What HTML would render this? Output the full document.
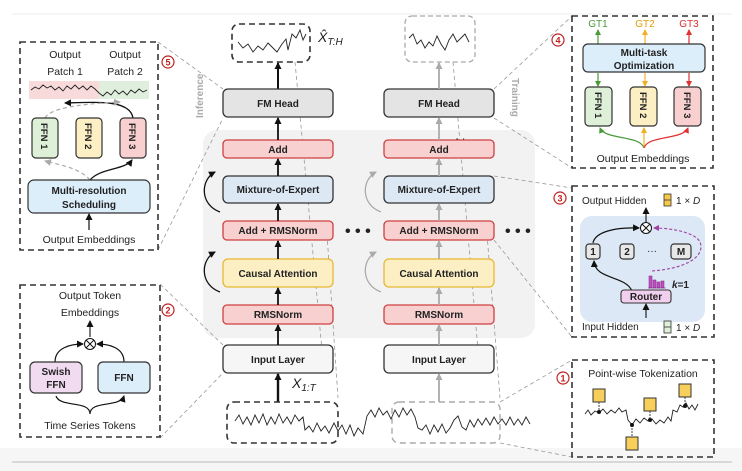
<!DOCTYPE html>
<html><head><meta charset="utf-8"><style>
html,body{margin:0;padding:0;background:#fff}
svg{display:block}
text{font-family:"Liberation Sans",sans-serif}
.b{font-weight:bold;font-size:10px;text-anchor:middle;fill:#222}
.t{font-size:10.5px;fill:#222;text-anchor:middle}
.dash{fill:none;stroke:#333;stroke-width:1.6;stroke-dasharray:6,4}
.gl{stroke:#999;stroke-width:0.8;stroke-dasharray:4,3;fill:none}
.ser{fill:none;stroke:#222;stroke-width:0.9}
</style></head><body>
<svg width="742" height="471" viewBox="0 0 742 471" xmlns="http://www.w3.org/2000/svg">
<defs>
<marker id="ak" markerUnits="userSpaceOnUse" markerWidth="7" markerHeight="7" refX="6" refY="3.5" orient="auto"><path d="M0,0 L7,3.5 L0,7z" fill="#111"/></marker>
<marker id="ag" markerUnits="userSpaceOnUse" markerWidth="7" markerHeight="7" refX="6" refY="3.5" orient="auto"><path d="M0,0 L7,3.5 L0,7z" fill="#aaa"/></marker>
<marker id="agr" markerUnits="userSpaceOnUse" markerWidth="6" markerHeight="6" refX="5" refY="3" orient="auto"><path d="M0,0 L6,3 L0,6z" fill="#4a9a3a"/></marker>
<marker id="ao" markerUnits="userSpaceOnUse" markerWidth="6" markerHeight="6" refX="5" refY="3" orient="auto"><path d="M0,0 L6,3 L0,6z" fill="#f0b020"/></marker>
<marker id="ar" markerUnits="userSpaceOnUse" markerWidth="6" markerHeight="6" refX="5" refY="3" orient="auto"><path d="M0,0 L6,3 L0,6z" fill="#e03030"/></marker>
<marker id="ap" markerUnits="userSpaceOnUse" markerWidth="6" markerHeight="6" refX="5" refY="3" orient="auto"><path d="M0,0 L6,3 L0,6z" fill="#a040a0"/></marker>
</defs>
<line x1="12" y1="14" x2="732" y2="14" stroke="#eee"/>
<rect x="0" y="448" width="742" height="23" fill="#f6f6f6"/>
<line x1="12" y1="462" x2="732" y2="462" stroke="#bbb"/>

<rect x="203" y="130" width="332" height="208" rx="14" fill="#f2f2f2"/>

<path class="gl" d="M158 42 L223 89 M158 250 L223 118"/>
<path class="gl" d="M494 89 L572 16 M494 118 L572 168"/>
<path class="gl" d="M494 176 L572 188 M494 240 L572 337"/>
<path class="gl" d="M160 284 L223 345 M160 438 L223 373"/>
<path class="gl" d="M500 402 L572 360 M500 443 L572 457"/>
<path class="gl" d="M295 62 L322 350 M327 234 L338 398"/>
<path class="gl" d="M453 62 L478 350 M487 234 L500 398"/>

<rect x="232" y="24" width="78" height="38" rx="7" class="dash"/>
<polyline class="ser" points="238,42 243,48 248,44 253,52 258,46 263,50 268,43 273,48 277,52 282,44 286,39 288,50 292,34 296,38 300,30 303,40 306,34"/>
<text x="318" y="42" font-family="Liberation Serif" font-style="italic" font-size="14" fill="#222">X̂<tspan font-size="10" dy="3">T:H</tspan></text>
<line x1="278" y1="89" x2="278" y2="63" stroke="#111" stroke-width="2" marker-end="url(#ak)"/>
<g stroke-width="1.3">
<rect x="223" y="89" width="110" height="28" rx="5" fill="#e4e4e4" stroke="#333"/>
<rect x="223" y="140" width="110" height="18" rx="4" fill="#f8d0d0" stroke="#d04040"/>
<rect x="223" y="176" width="110" height="27" rx="5" fill="#dde8f5" stroke="#333"/>
<rect x="223" y="221" width="110" height="19" rx="4" fill="#f8d0d0" stroke="#d04040"/>
<rect x="223" y="259" width="110" height="28" rx="5" fill="#fcefc4" stroke="#e8b830"/>
<rect x="223" y="305" width="110" height="19" rx="4" fill="#f8d0d0" stroke="#d04040"/>
<rect x="223" y="345" width="110" height="28" rx="5" fill="#f6f6f6" stroke="#333"/>
</g>
<text class="b" x="278" y="107">FM Head</text>
<text class="b" x="278" y="153">Add</text>
<text class="b" x="278" y="193">Mixture-of-Expert</text>
<text class="b" x="278" y="234">Add + RMSNorm</text>
<text class="b" x="278" y="277">Causal Attention</text>
<text class="b" x="278" y="318">RMSNorm</text>
<text class="b" x="278" y="363">Input Layer</text>
<g stroke="#111" stroke-width="1.8" marker-end="url(#ak)">
<line x1="278" y1="140" x2="278" y2="118"/><line x1="278" y1="176" x2="278" y2="159"/>
<line x1="278" y1="221" x2="278" y2="204"/><line x1="278" y1="259" x2="278" y2="241"/>
<line x1="278" y1="305" x2="278" y2="288"/><line x1="278" y1="345" x2="278" y2="325"/>
<line x1="278" y1="402" x2="278" y2="374" stroke-width="2.4"/>
</g>
<path d="M220 212 C200 205 200 180 215 172" fill="none" stroke="#111" stroke-width="1.3" marker-end="url(#ak)"/>
<path d="M220 292 C200 285 200 260 215 252" fill="none" stroke="#111" stroke-width="1.3" marker-end="url(#ak)"/>
<text x="292" y="388" font-family="Liberation Serif" font-style="italic" font-size="14" fill="#222">X<tspan font-size="10" dy="3">1:T</tspan></text>
<text x="345" y="236" font-size="16" font-weight="bold" fill="#222">• • •</text>
<text x="505" y="236" font-size="16" font-weight="bold" fill="#222">• • •</text>
<text x="442" y="148" font-family="Liberation Serif" font-size="14" fill="#222">× <tspan font-style="italic">N</tspan></text>
<text transform="translate(203,118) rotate(-90)" font-size="10" font-weight="bold" fill="#aaa">Inference</text>
<text transform="translate(512,78) rotate(90)" font-size="10" font-weight="bold" fill="#aaa">Training</text>

<rect x="405" y="16" width="70" height="46" rx="7" fill="none" stroke="#aaa" stroke-width="1.3" stroke-dasharray="5,3"/>
<polyline class="ser" points="409,38 413,34 417,44 421,40 425,48 429,42 433,46 437,36 441,44 445,50 449,40 453,34 457,42 461,38 465,34 469,42"/>
<g stroke-width="1.3">
<rect x="384" y="89" width="110" height="28" rx="5" fill="#e4e4e4" stroke="#333"/>
<rect x="384" y="140" width="110" height="18" rx="4" fill="#f8d0d0" stroke="#d04040"/>
<rect x="384" y="176" width="110" height="27" rx="5" fill="#dde8f5" stroke="#333"/>
<rect x="384" y="221" width="110" height="19" rx="4" fill="#f8d0d0" stroke="#d04040"/>
<rect x="384" y="259" width="110" height="28" rx="5" fill="#fcefc4" stroke="#e8b830"/>
<rect x="384" y="305" width="110" height="19" rx="4" fill="#f8d0d0" stroke="#d04040"/>
<rect x="384" y="345" width="110" height="28" rx="5" fill="#f6f6f6" stroke="#333"/>
</g>
<text class="b" x="439" y="107">FM Head</text>
<text class="b" x="439" y="153">Add</text>
<text class="b" x="439" y="193">Mixture-of-Expert</text>
<text class="b" x="439" y="234">Add + RMSNorm</text>
<text class="b" x="439" y="277">Causal Attention</text>
<text class="b" x="439" y="318">RMSNorm</text>
<text class="b" x="439" y="363">Input Layer</text>
<g stroke="#aaa" stroke-width="1.8" marker-end="url(#ag)">
<line x1="439" y1="89" x2="439" y2="63"/>
<line x1="439" y1="140" x2="439" y2="118"/><line x1="439" y1="176" x2="439" y2="159"/>
<line x1="439" y1="221" x2="439" y2="204"/><line x1="439" y1="259" x2="439" y2="241"/>
<line x1="439" y1="305" x2="439" y2="288"/><line x1="439" y1="345" x2="439" y2="325"/>
<line x1="439" y1="402" x2="439" y2="374"/>
</g>
<path d="M381 212 C361 205 361 180 376 172" fill="none" stroke="#aaa" stroke-width="1.3" marker-end="url(#ag)"/>
<path d="M381 292 C361 285 361 260 376 252" fill="none" stroke="#aaa" stroke-width="1.3" marker-end="url(#ag)"/>

<rect x="227" y="402" width="111" height="41" rx="7" class="dash"/>
<rect x="392" y="402" width="108" height="41" rx="7" fill="none" stroke="#aaa" stroke-width="1.4" stroke-dasharray="6,4"/>
<polyline class="ser" points="235,421 239,415 243,424 247,417 251,425 255,415 259,423 263,414 267,425 271,417 275,424 279,414 283,423 287,417 291,424 295,415 299,421 303,417 305,430 309,426 313,432 317,423 321,431 325,426 329,433 334,423 338,431 342,425 346,434 350,425 354,436 358,428 363,434 367,416 371,410 375,417 379,408 383,415 387,411 391,419 395,410 399,417 403,408 407,415 411,409 415,417 418,428 422,430 426,425 430,434 434,425 438,432 442,424 446,433 450,428 454,420 458,416 462,427 466,430 470,420 474,427 478,419 482,425 486,418 490,425 494,417 498,424 502,419 506,425 510,417 514,425 518,419 522,425 526,417 530,424"/>

<g font-size="9" font-weight="bold" fill="#c02020" text-anchor="middle">
<circle cx="168" cy="62" r="6" fill="#fff" stroke="#c02020" stroke-width="1.2"/><text x="168" y="65.5">5</text>
<circle cx="558" cy="40" r="6" fill="#fff" stroke="#c02020" stroke-width="1.2"/><text x="558" y="43.5">4</text>
<circle cx="560" cy="198" r="6" fill="#fff" stroke="#c02020" stroke-width="1.2"/><text x="560" y="201.5">3</text>
<circle cx="168" cy="310" r="6" fill="#fff" stroke="#c02020" stroke-width="1.2"/><text x="168" y="313.5">2</text>
<circle cx="563" cy="378" r="6" fill="#fff" stroke="#c02020" stroke-width="1.2"/><text x="563" y="381.5">1</text>
</g>

<rect x="20" y="42" width="138" height="208" class="dash"/>
<text class="t" x="65" y="58">Output</text><text class="t" x="65" y="75">Patch 1</text>
<text class="t" x="125" y="58">Output</text><text class="t" x="125" y="75">Patch 2</text>
<rect x="29" y="81" width="70" height="18" fill="#f9dada"/>
<rect x="99" y="81" width="50" height="18" fill="#e0eedd"/>
<polyline class="ser" points="31,90 35,87 39,89 43,85 47,88 51,86 55,90 59,87 63,91 67,86 71,89 75,85 79,89 83,86 87,90 91,86 95,89 99,93 103,96 107,92 111,95 115,90 119,94 123,91 127,95 131,90 135,93 139,89 143,92 147,90"/>
<path d="M133 118 C130 100 100 102 65 103" fill="none" stroke="#111" stroke-width="1.3" marker-end="url(#ak)"/>
<path d="M45 118 C50 108 80 104 120 102" fill="none" stroke="#aaa" stroke-width="1.2" stroke-dasharray="4,3" marker-end="url(#ag)"/>
<g stroke="#333" stroke-width="1.2">
<rect x="32" y="118" width="26" height="40" rx="4" fill="#dff0d8"/>
<rect x="76" y="118" width="26" height="40" rx="4" fill="#fcefc4"/>
<rect x="120" y="118" width="26" height="40" rx="4" fill="#f8d0d0"/>
</g>
<g font-size="9.5" font-weight="bold" fill="#222">
<text transform="translate(41,123) rotate(90)">FFN 1</text>
<text transform="translate(85,123) rotate(90)">FFN 2</text>
<text transform="translate(129,123) rotate(90)">FFN 3</text>
</g>
<path d="M90 180 C80 168 60 165 45 161" fill="none" stroke="#aaa" stroke-width="1.2" stroke-dasharray="4,3" marker-end="url(#ag)"/>
<path d="M90 180 C100 168 125 170 132 160" fill="none" stroke="#111" stroke-width="1.3" marker-end="url(#ak)"/>
<rect x="28" y="180" width="122" height="33" rx="6" fill="#ddeefb" stroke="#333" stroke-width="1.2"/>
<text class="b" x="89" y="194">Multi-resolution</text>
<text class="b" x="89" y="208">Scheduling</text>
<line x1="89" y1="230" x2="89" y2="214" stroke="#111" stroke-width="1.2" marker-end="url(#ak)"/>
<text class="t" x="89" y="243">Output Embeddings</text>

<rect x="20" y="285" width="140" height="152" class="dash"/>
<text class="t" x="90" y="299">Output Token</text>
<text class="t" x="90" y="316">Embeddings</text>
<line x1="90" y1="337" x2="90" y2="321" stroke="#111" stroke-width="1.1" marker-end="url(#ak)"/>
<circle cx="90" cy="344" r="5.5" fill="#fff" stroke="#111"/>
<path d="M86 340 L94 348 M94 340 L86 348" stroke="#111"/>
<path d="M55 362 C55 348 70 344 83 344" fill="none" stroke="#111" stroke-width="1.2" marker-end="url(#ak)"/>
<path d="M124 362 C124 348 110 344 97 344" fill="none" stroke="#111" stroke-width="1.2" marker-end="url(#ak)"/>
<rect x="30" y="362" width="52" height="31" rx="5" fill="#f1dbf0" stroke="#333" stroke-width="1.2"/>
<rect x="98" y="362" width="52" height="31" rx="5" fill="#ddeefb" stroke="#333" stroke-width="1.2"/>
<text class="b" x="56" y="375">Swish</text><text class="b" x="56" y="388">FFN</text>
<text class="b" x="124" y="381">FFN</text>
<path d="M90 414 C90 400 60 408 56 396 M90 414 C90 400 120 408 124 396" fill="none" stroke="#111" stroke-width="1.2" marker-end="url(#ak)"/>
<text class="t" x="90" y="429">Time Series Tokens</text>

<rect x="572" y="16" width="141" height="152" class="dash"/>
<text x="598" y="27" font-size="10" fill="#4a9a3a" text-anchor="middle">GT1</text>
<text x="645" y="27" font-size="10" fill="#e0a000" text-anchor="middle">GT2</text>
<text x="689" y="27" font-size="10" fill="#e03030" text-anchor="middle">GT3</text>
<line x1="598" y1="44" x2="598" y2="30" stroke="#4a9a3a" stroke-width="1.2" marker-end="url(#agr)"/>
<line x1="645" y1="44" x2="645" y2="30" stroke="#f0b020" stroke-width="1.2" marker-end="url(#ao)"/>
<line x1="689" y1="44" x2="689" y2="30" stroke="#e03030" stroke-width="1.2" marker-end="url(#ar)"/>
<rect x="583" y="44" width="122" height="28" rx="5" fill="#ddeefb" stroke="#333" stroke-width="1.2"/>
<text class="b" x="644" y="56">Multi-task</text>
<text class="b" x="644" y="69">Optimization</text>
<line x1="598" y1="73" x2="598" y2="86" stroke="#4a9a3a" stroke-width="1.2" marker-end="url(#agr)"/>
<line x1="645" y1="73" x2="645" y2="86" stroke="#f0b020" stroke-width="1.2" marker-end="url(#ao)"/>
<line x1="689" y1="73" x2="689" y2="86" stroke="#e03030" stroke-width="1.2" marker-end="url(#ar)"/>
<g stroke="#333" stroke-width="1.2">
<rect x="585" y="87" width="27" height="39" rx="4" fill="#dff0d8"/>
<rect x="630" y="87" width="27" height="39" rx="4" fill="#fcefc4"/>
<rect x="674" y="87" width="27" height="39" rx="4" fill="#f8d0d0"/>
</g>
<g font-size="9.5" font-weight="bold" fill="#222">
<text transform="translate(595,92) rotate(90)">FFN 1</text>
<text transform="translate(640,92) rotate(90)">FFN 2</text>
<text transform="translate(684,92) rotate(90)">FFN 3</text>
</g>
<path d="M644 148 C640 135 605 140 600 128" fill="none" stroke="#4a9a3a" stroke-width="1.2" marker-end="url(#agr)"/>
<line x1="644" y1="148" x2="644" y2="128" stroke="#f0b020" stroke-width="1.2" marker-end="url(#ao)"/>
<path d="M644 148 C648 135 683 140 688 128" fill="none" stroke="#e03030" stroke-width="1.2" marker-end="url(#ar)"/>
<text class="t" x="643" y="162">Output Embeddings</text>

<rect x="572" y="186" width="142" height="151" class="dash"/>
<text x="582" y="204" font-size="10" fill="#222">Output Hidden</text>
<rect x="664" y="194" width="7" height="12" fill="#f7c948" stroke="#333" stroke-width="0.8"/><line x1="664" y1="200" x2="671" y2="200" stroke="#333" stroke-width="0.8"/>
<text x="676" y="204" font-family="Liberation Serif" font-size="10" fill="#222">1 × <tspan font-style="italic">D</tspan></text>
<rect x="580" y="216" width="125" height="106" rx="12" fill="#dce8f5"/>
<line x1="646" y1="222" x2="646" y2="208" stroke="#111" stroke-width="1.1" marker-end="url(#ak)"/>
<circle cx="646" cy="228" r="5.5" fill="#fff" stroke="#111"/>
<path d="M642 224 L650 232 M650 224 L642 232" stroke="#111"/>
<path d="M593 243 C595 232 615 227 639 228" fill="none" stroke="#111" stroke-width="1.2" marker-end="url(#ak)"/>
<g stroke="#333" stroke-width="1.2" fill="#e8e8e8">
<rect x="586" y="244" width="14" height="15" rx="3"/>
<rect x="620" y="244" width="14" height="15" rx="3"/>
<rect x="671" y="244" width="20" height="15" rx="3"/>
</g>
<text class="b" x="593" y="255">1</text><text class="b" x="627" y="255">2</text><text class="b" x="681" y="255">M</text>
<text x="652" y="254" font-size="10" fill="#222" text-anchor="middle">···</text>
<path d="M632 291 C625 275 595 280 594 261" fill="none" stroke="#111" stroke-width="1.2" marker-end="url(#ak)"/>
<path d="M652 271 C690 268 705 255 700 242 C695 232 670 228 654 228" fill="none" stroke="#a040a0" stroke-width="1.1" stroke-dasharray="3,2" marker-end="url(#ap)"/>
<g fill="#c050c0" stroke="#802080" stroke-width="0.5">
<rect x="649" y="276" width="3" height="12"/><rect x="653" y="280" width="3" height="8"/><rect x="657" y="282" width="3" height="6"/><rect x="661" y="281" width="3" height="7"/><line x1="648" y1="288" x2="666" y2="288"/>
</g>
<text x="672" y="288" font-size="10" font-weight="bold" fill="#222"><tspan font-style="italic">k</tspan>=1</text>
<rect x="621" y="290" width="50" height="13" rx="3" fill="#f1d0ef" stroke="#333" stroke-width="1.1"/>
<text class="b" x="646" y="300">Router</text>
<line x1="646" y1="318" x2="646" y2="304" stroke="#111" stroke-width="1.1" marker-end="url(#ak)"/>
<text x="582" y="330" font-size="10" fill="#222">Input Hidden</text>
<rect x="664" y="321" width="7" height="12" fill="#dff0d8" stroke="#333" stroke-width="0.8"/><line x1="664" y1="327" x2="671" y2="327" stroke="#333" stroke-width="0.8"/>
<text x="676" y="331" font-family="Liberation Serif" font-size="10" fill="#222">1 × <tspan font-style="italic">D</tspan></text>

<rect x="572" y="360" width="142" height="97" class="dash"/>
<text class="t" x="643" y="377">Point-wise Tokenization</text>
<polyline class="ser" points="585,414 588,410 591,415 595,411 599,413 603,409 607,414 611,410 615,413 619,408 622,412 626,410 628,420 632,425 636,419 640,423 644,418 648,421 652,419 656,424 660,420 664,423 668,417 671,421 673,410 677,412 680,405 683,407 686,403 689,409 692,405 695,410 698,404"/>
<g stroke="#111" stroke-width="0.8" stroke-dasharray="2,1"><line x1="599" y1="402" x2="599" y2="412"/><line x1="650" y1="411" x2="650" y2="420"/><line x1="685" y1="397" x2="685" y2="406"/><line x1="632" y1="425" x2="632" y2="437"/></g>
<g fill="#111"><circle cx="599" cy="412" r="2"/><circle cx="650" cy="420" r="2"/><circle cx="685" cy="406" r="2"/><circle cx="632" cy="425" r="2"/></g>
<g fill="#f7cf5a" stroke="#333" stroke-width="1">
<rect x="593" y="389" width="12" height="13"/><rect x="644" y="398" width="12" height="13"/><rect x="679" y="384" width="12" height="13"/><rect x="626" y="437" width="12" height="13"/>
</g>
</svg>
</body></html>
